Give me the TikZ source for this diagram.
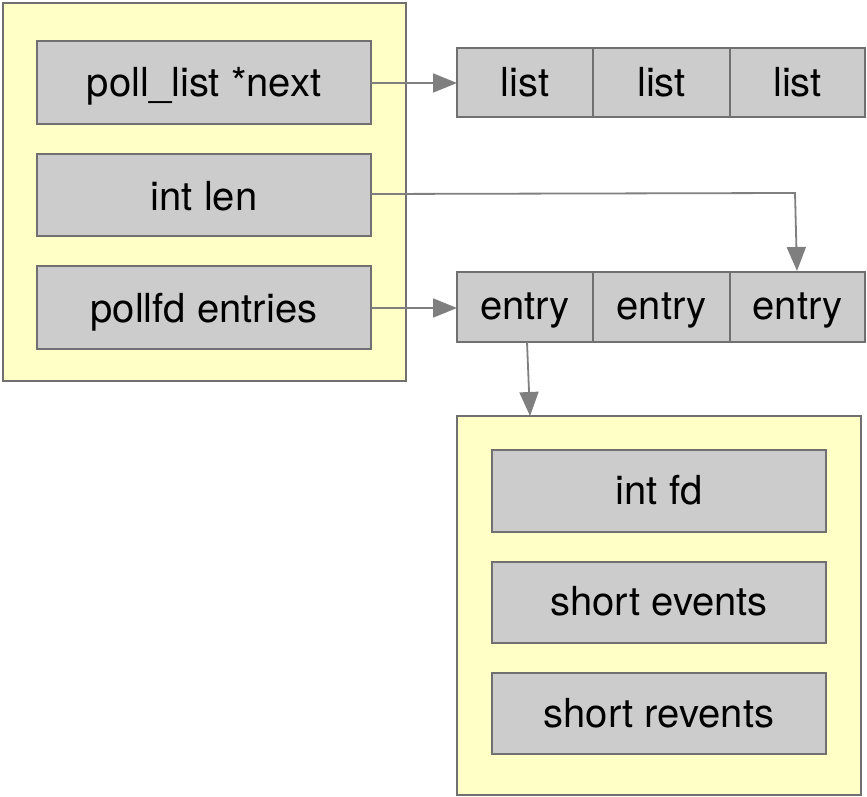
\documentclass[tikz,border=0pt]{standalone}
\usepackage{fontspec}
\setmainfont{TeX Gyre Heros}
\usetikzlibrary{arrows.meta}
\definecolor{yel}{HTML}{FFFFC6}
\definecolor{cell}{HTML}{CCCCCC}
\definecolor{edge}{HTML}{707070}
\definecolor{arr}{HTML}{7F7F7F}
\tikzset{
  outerbox/.style={draw=edge, fill=yel, line width=1.8pt},
  cellbox/.style={draw=edge, fill=cell, line width=1.8pt},
  lbl/.style={font=\fontsize{40}{46}\selectfont, anchor=base, inner sep=0pt},
  conn/.style={draw=arr, line width=1.8pt, -{Triangle[length=24pt,width=19pt]}},
}
\begin{document}
\begin{tikzpicture}[x=1pt,y=-1pt]
\useasboundingbox (0,0) rectangle (867,797);
% left struct
\draw[outerbox] (3,3) rectangle (406,381);
\draw[cellbox] (37,41) rectangle (371,124);
\draw[cellbox] (37,154) rectangle (371,236);
\draw[cellbox] (37,266) rectangle (371,349);
\node[lbl] (next) at (204,97) {poll\_list *next};
\node[lbl] (len) at (204,210) {int len};
\node[lbl] (ent) at (204,322.5) {pollfd entries};
\coordinate (nextE) at (371,83);
\coordinate (lenE) at (371,194);
\coordinate (entE) at (371,308);
% list row
\draw[cellbox] (457,48) rectangle (593,117);
\draw[cellbox] (593,48) rectangle (730,117);
\draw[cellbox] (730,48) rectangle (865,117);
\node[lbl] (l1) at (525,97) {list};
\node[lbl] (l2) at (661.5,97) {list};
\node[lbl] (l3) at (797.5,97) {list};
% entry row
\draw[cellbox] (457,272) rectangle (593,342);
\draw[cellbox] (593,272) rectangle (730,342);
\draw[cellbox] (730,272) rectangle (865,342);
\node[lbl] (e1) at (525,319) {entry};
\node[lbl] (e2) at (661.5,319) {entry};
\node[lbl] (e3) at (797.5,319) {entry};
% bottom struct
\draw[outerbox] (457,416) rectangle (861,795);
\draw[cellbox] (492,450) rectangle (826,532);
\draw[cellbox] (492,562) rectangle (826,643);
\draw[cellbox] (492,673) rectangle (826,754);
\node[lbl] (fd) at (659,504) {int fd};
\node[lbl] (ev) at (659,615.5) {short events};
\node[lbl] (rev) at (659,727.5) {short revents};
% connectors
\coordinate (l1W) at (457,83);
\coordinate (e1W) at (457,308);
\coordinate (e3T) at (797,271);
\coordinate (e1B) at (527,342);
\coordinate (boxT) at (530,416);
\draw[conn] (nextE) -- (l1W);
\draw[conn] (lenE) -- (795,193) -- (e3T);
\draw[conn] (entE) -- (e1W);
\draw[conn] (e1B) -- (boxT);
\end{tikzpicture}
\end{document}
